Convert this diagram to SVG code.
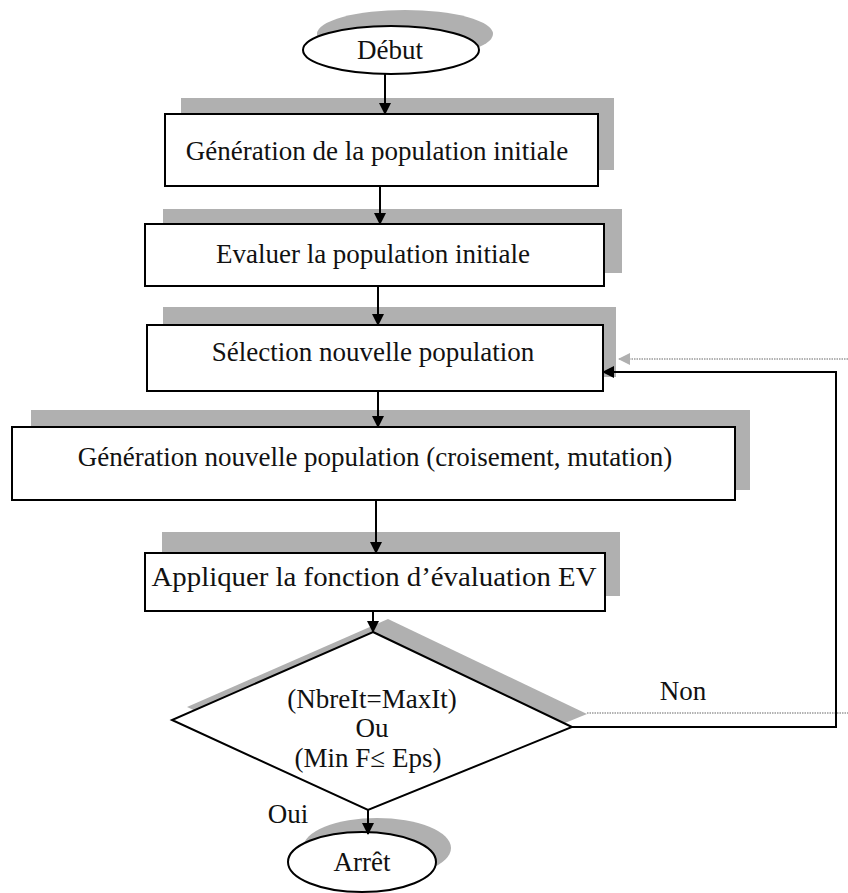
<svg xmlns="http://www.w3.org/2000/svg" width="848" height="893" viewBox="0 0 848 893">
  <defs>
    <style>
      .box { fill: #ffffff; stroke: #000000; stroke-width: 2; }
      .shadow { fill: #b0b0b0; stroke: none; }
      .label { font-family: "Liberation Serif", "Times New Roman", serif; font-size: 27px; fill: #111111; text-anchor: middle; }
      .link { fill: none; stroke: #000000; stroke-width: 2; }
      .ghost { fill: none; stroke: #9a9a9a; stroke-width: 1.5; stroke-dasharray: 1.5 1; }
    </style>
    <marker id="head" viewBox="0 0 12 12" refX="11" refY="6" markerWidth="12" markerHeight="12" markerUnits="userSpaceOnUse" orient="auto">
      <path d="M0,0 L12,6 L0,12 Z" fill="#000000"/>
    </marker>
    <marker id="ghostHead" viewBox="0 0 12 12" refX="11" refY="6" markerWidth="12" markerHeight="12" markerUnits="userSpaceOnUse" orient="auto">
      <path d="M0,0 L12,6 L0,12 Z" fill="#b0b0b0"/>
    </marker>
  </defs>

  <rect x="0" y="0" width="848" height="893" fill="#ffffff"/>

  <!-- start terminal -->
  <g id="debut">
    <ellipse class="shadow" cx="405" cy="34" rx="88" ry="24"/>
    <ellipse class="box" cx="391" cy="50" rx="88" ry="24"/>
    <text class="label" x="390" y="59">Début</text>
  </g>

  <g id="generation-initiale">
    <rect class="shadow" x="181" y="98" width="433" height="72"/>
    <rect class="box" x="165" y="114" width="433" height="72"/>
    <text class="label" x="377" y="160">Génération de la population initiale</text>
  </g>

  <g id="evaluer-initiale">
    <rect class="shadow" x="163" y="209" width="459" height="64"/>
    <rect class="box" x="145" y="224" width="459" height="62"/>
    <text class="label" x="373" y="263">Evaluer la population  initiale</text>
  </g>

  <g id="selection">
    <rect class="shadow" x="163" y="307" width="453" height="70"/>
    <rect class="box" x="147" y="325" width="456" height="66"/>
    <text class="label" x="373" y="361">Sélection nouvelle population</text>
  </g>

  <g id="generation-nouvelle">
    <rect class="shadow" x="31" y="410" width="719" height="80"/>
    <rect class="box" x="12" y="427" width="723" height="73"/>
    <text class="label" x="375" y="466">Génération nouvelle population (croisement, mutation)</text>
  </g>

  <g id="appliquer-ev">
    <rect class="shadow" x="162" y="532" width="458" height="64"/>
    <rect class="box" x="145" y="553" width="460" height="58"/>
    <text class="label" x="374" y="586" textLength="445" lengthAdjust="spacingAndGlyphs">Appliquer la fonction d’évaluation EV</text>
  </g>

  <!-- stop test -->
  <g id="test-arret">
    <polygon class="shadow" points="388,619 587,714 383,797 187,707"/>
    <polygon class="box" points="373,632 572,727 368,810 172,720"/>
    <text class="label" x="372" y="708">(NbreIt=MaxIt)</text>
    <text class="label" x="372" y="737">Ou</text>
    <text class="label" x="368" y="767">(Min F≤ Eps)</text>
  </g>

  <g id="arret">
    <ellipse class="shadow" cx="377" cy="848" rx="74" ry="30"/>
    <ellipse class="box" cx="362" cy="862" rx="74" ry="30"/>
    <text class="label" x="362" y="871">Arrêt</text>
  </g>

  <g id="connectors">
    <line class="link" x1="385" y1="74" x2="385" y2="114" marker-end="url(#head)"/>
    <line class="link" x1="380" y1="186" x2="380" y2="224" marker-end="url(#head)"/>
    <line class="link" x1="378" y1="286" x2="378" y2="325" marker-end="url(#head)"/>
    <line class="link" x1="378" y1="391" x2="378" y2="427" marker-end="url(#head)"/>
    <line class="link" x1="376" y1="500" x2="376" y2="553" marker-end="url(#head)"/>
    <line class="link" x1="373" y1="611" x2="373" y2="632" marker-end="url(#head)"/>
    <line class="link" x1="368" y1="810" x2="368" y2="834" marker-end="url(#head)"/>
    <!-- loop back to selection -->
    <path class="ghost" d="M587,713 H848"/>
    <path class="ghost" d="M848,359 H619" marker-end="url(#ghostHead)"/>
    <path class="link" d="M572,727 H836 V372 H603" marker-end="url(#head)"/>
    <text class="label" x="683" y="700">Non</text>
    <text class="label" x="288" y="823">Oui</text>
  </g>
</svg>
